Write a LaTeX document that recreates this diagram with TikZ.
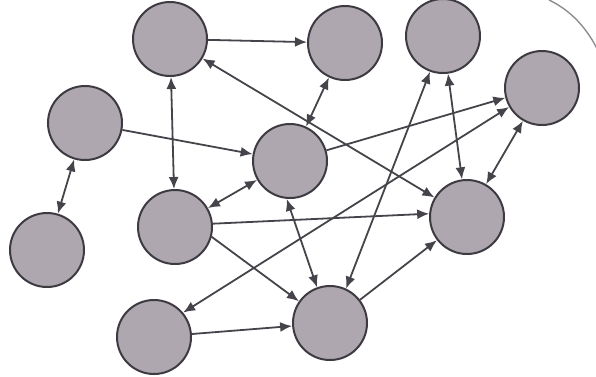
\documentclass[tikz,border=0pt]{standalone}
\usetikzlibrary{arrows.meta}
\definecolor{nodefill}{RGB}{174,167,175}
\definecolor{nodeedge}{RGB}{62,58,66}
\definecolor{edgecol}{RGB}{70,68,74}
\definecolor{arccol}{RGB}{140,140,145}
\begin{document}
\begin{tikzpicture}[x=1pt,y=-1pt,
  vertex/.style={circle,draw=nodeedge,fill=nodefill,line width=2pt,minimum size=74pt,inner sep=0pt},
  link/.style={draw=edgecol,line width=1.8pt},
  one/.style={link,-{Latex[length=12pt,width=10pt]}},
  both/.style={link,{Latex[length=12pt,width=10pt]}-{Latex[length=12pt,width=10pt]}}]
\useasboundingbox (0,0) rectangle (596,376);
\draw[arccol,line width=1.4pt] (549,0) .. controls (570,10) and (588,28) .. (600,55);
\node[vertex] (A) at (170,39) {};
\node[vertex] (B) at (345,43) {};
\node[vertex] (C) at (443,36) {};
\node[vertex] (D) at (542,88) {};
\node[vertex] (E) at (85,123) {};
\node[vertex] (F) at (290,161) {};
\node[vertex] (G) at (175,227) {};
\node[vertex] (H) at (47,250) {};
\node[vertex] (I) at (467,217) {};
\node[vertex] (J) at (330,323) {};
\node[vertex] (K) at (154,337) {};
\draw[one] (A) -- (B);
\draw[both] (A) -- (I);
\draw[both] (A) -- (G);
\draw[one] (E) -- (F);
\draw[both] (E) -- (H);
\draw[both] (B) -- (F);
\draw[both] (C) -- (I);
\draw[both] (C.250) -- (J.65);
\draw[both] (D) -- (I);
\draw[one] (F) -- (D.195);
\draw[both] (D.210) -- (K.40);
\draw[both] (F) -- (G);
\draw[both] (F.265) -- (J.110);
\draw[one] (G.5) -- (I.175);
\draw[one] (G.345) -- (J.145);
\draw[one] (K) -- (J);
\draw[one] (J) -- (I);
\end{tikzpicture}
\end{document}
